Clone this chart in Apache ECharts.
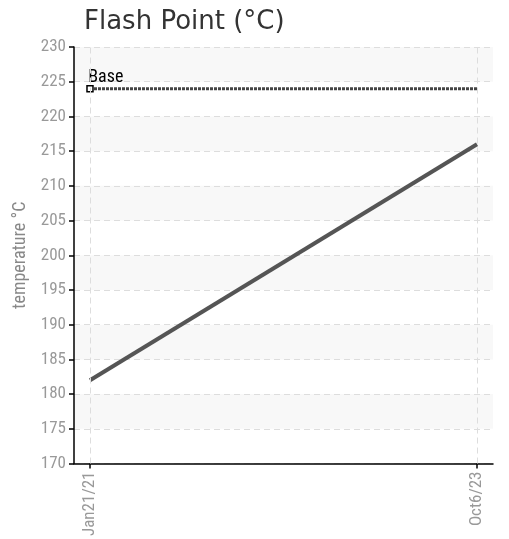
<!DOCTYPE html>
<html>
<head>
<meta charset="utf-8">
<script src="https://cdn.jsdelivr.net/npm/echarts@6/dist/echarts.min.js"></script>
<style>html,body{margin:0;padding:0;background:#fff;}#c{width:509px;height:539px;}</style>
</head>
<body>
<div id="c"></div>
<script>
const categories = ['Jan21/21', 'Oct6/23'];
const flashPoint = [182, 216];
const baseValues = [224, 224];
const baseLabel = 'Base';
const yMin = 170, yMax = 230, yStep = 5;

// pick a condensed font that is installed
function hasFont(name) {
  const c = document.createElement('canvas').getContext('2d');
  const s = 'mmmmmmmmmmlli0123456789';
  c.font = '40px monospace'; const a = c.measureText(s).width;
  c.font = "40px '" + name + "', monospace"; const b = c.measureText(s).width;
  c.font = '40px serif'; const a2 = c.measureText(s).width;
  c.font = "40px '" + name + "', serif"; const b2 = c.measureText(s).width;
  return a !== b || a2 !== b2;
}
const candidates = [
  ['Liberation Sans Narrow', 1.0],
  ['Arial Narrow', 1.0],
  ['Roboto Condensed', 0.95],
  ['DejaVu Sans Condensed', 0.82],
  ['Roboto', 0.85]
];
let narrow = 'sans-serif', scale = 0.8;
for (const [n, s] of candidates) { if (hasFont(n)) { narrow = "'" + n + "'"; scale = s; break; } }
const fs = v => Math.round(v * scale);

const chart = echarts.init(document.getElementById('c'), null, {renderer: 'canvas'});
chart.setOption({
  animation: false,
  backgroundColor: '#fff',
  title: {
    text: 'Flash Point (°C)',
    left: 79, top: 4,
    textStyle: {fontFamily: 'DejaVu Sans', fontSize: 26, fontWeight: 'normal', color: '#333'}
  },
  grid: {left: 74, right: 16, top: 47, bottom: 75, containLabel: false},
  xAxis: {
    type: 'value',
    min: -0.0413, max: 1.0413,
    splitLine: {show: false},
    axisLine: {onZero: false, lineStyle: {color: '#000', width: 1.5}},
    axisTick: {show: true, customValues: [0, 1], length: 5, lineStyle: {color: '#000', width: 1.5}},
    axisLabel: {
      customValues: [0, 1], rotate: 90, margin: 8,
      formatter: v => categories[Math.round(v)],
      fontFamily: narrow, fontSize: fs(18), color: '#999'
    }
  },
  yAxis: {
    type: 'value',
    min: yMin, max: yMax, interval: yStep,
    name: 'temperature °C', nameLocation: 'middle', nameGap: 40,
    nameTextStyle: {fontFamily: narrow, fontSize: fs(18.5), color: '#888'},
    axisLine: {show: true, onZero: false, lineStyle: {color: '#000', width: 1.5}},
    axisTick: {show: true, length: 5, lineStyle: {color: '#000', width: 1.5}},
    axisLabel: {fontFamily: narrow, fontSize: fs(18), color: '#999', margin: 8},
    splitLine: {show: true, lineStyle: {color: '#ddd', type: [6, 4]}},
    splitArea: {show: true, areaStyle: {color: ['rgba(255,255,255,0)', '#f8f8f8']}}
  },
  series: [
    {
      type: 'line',
      data: flashPoint.map((v, i) => [i, v]),
      symbol: 'none',
      lineStyle: {color: '#555', width: 4},
      z: 3,
      markLine: {
        silent: true, symbol: 'none', label: {show: false},
        lineStyle: {color: '#ddd', type: [6, 4], width: 1},
        data: categories.map((c, i) => ({xAxis: i}))
      }
    },
    {
      type: 'line',
      data: baseValues.map((v, i) => ({
        value: [i, v],
        symbol: i === 0 ? 'rect' : 'none',
        label: {show: i === 0}
      })),
      symbolSize: 6,
      itemStyle: {color: '#fff', borderColor: '#000', borderWidth: 1.5},
      lineStyle: {color: '#444', width: 3, type: [3, 1]},
      label: {
        show: true, formatter: baseLabel, position: 'insideBottomLeft',
        offset: [-3, -1],
        fontFamily: narrow, fontSize: fs(19), color: '#000'
      },
      z: 4
    }
  ]
});
</script>
</body>
</html>
